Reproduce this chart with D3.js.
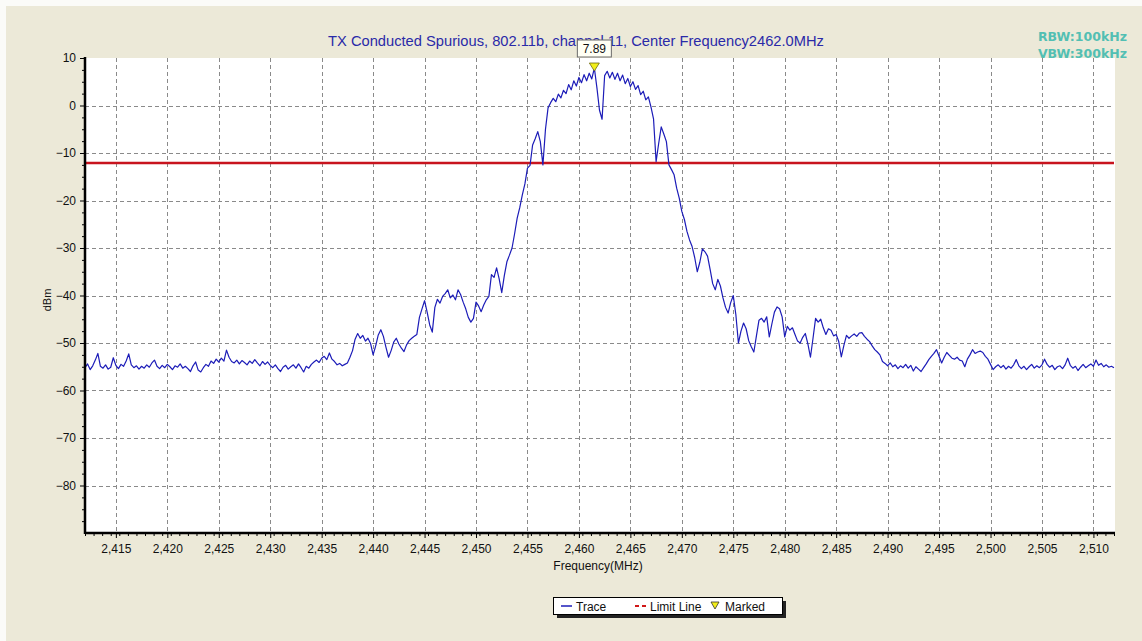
<!DOCTYPE html>
<html lang="en">
<head>
<meta charset="UTF-8">
<title>TX Conducted Spurious</title>
<style>
  body { margin: 0; background: #fff; }
  text { font-family: "Liberation Sans", Arial, sans-serif; }
</style>
</head>
<body>
<script src="https://d3js.org/d3.v7.min.js"></script>
<script>

  // sweep: 2412 MHz start, 0.25 MHz step, 401 points
  var freqStart = 2412, freqStep = 0.25;

  // trace values (dBm)
  var traceDbm = [
    -55.2, -54.4, -55.6, -54.8, -53.6, -52.2, -54.9, -55.3, -54.6, -55.5, -55.1, -53.1, -54.7, -55.4, -54.5, -54.9, -53.8, -52.3, -54.6, -55.2,
    -54.8, -55.5, -54.9, -55.3, -54.6, -55.1, -54.2, -53.6, -54.9, -55.4, -54.7, -55.2, -54.5, -55.0, -55.6, -54.8, -55.1, -54.4, -55.3, -54.9,
    -55.4, -56.0, -54.8, -54.0, -55.7, -56.1, -55.2, -54.5, -54.9, -53.8, -54.3, -53.4, -54.0, -53.2, -53.8, -51.5, -53.0, -53.9, -54.2, -53.6,
    -54.4, -53.7, -54.1, -54.6, -53.8, -54.3, -53.5, -54.2, -54.8, -53.9, -54.5, -54.0, -54.7, -55.2, -54.6, -55.4, -56.0, -55.1, -54.7, -55.5,
    -55.0, -54.6, -55.3, -54.4, -55.2, -56.1, -54.9, -55.3, -54.5, -54.0, -53.6, -54.1, -53.2, -52.8, -53.5, -52.1, -53.4, -53.9, -54.6, -54.3,
    -54.8, -54.5, -54.2, -53.0, -51.6, -49.2, -48.0, -49.0, -48.4, -49.6, -49.0, -50.1, -52.5, -50.6, -48.3, -47.2, -48.6, -50.9, -53.0, -51.6,
    -49.8, -49.0, -50.2, -51.1, -51.8, -50.4, -49.5, -49.0, -48.6, -48.2, -44.6, -42.8, -41.1, -43.5, -46.2, -47.7, -42.5, -40.8, -41.6, -40.2,
    -39.6, -38.8, -40.5, -39.9, -40.9, -38.8, -39.8, -41.4, -42.8, -44.6, -45.6, -44.8, -41.4, -42.2, -43.4, -42.0, -40.9, -40.2, -35.6, -36.2,
    -34.2, -36.5, -39.4, -35.8, -32.9, -31.5, -30.0, -27.0, -23.7, -21.5, -18.8, -16.5, -13.2, -12.6, -8.3, -7.0, -5.5, -7.6, -12.5, -5.0,
    -0.5, 0.6, 1.5, 0.8, 2.4, 1.6, 3.2, 2.5, 4.4, 3.3, 5.2, 4.1, 5.9, 4.8, 6.5, 5.2, 6.8, 5.6, 7.89, 3.7,
    -1.0, -2.9, 6.3, 7.2, 5.8, 7.0, 5.5, 6.8, 5.2, 6.4, 4.6, 5.7, 4.0, 5.0, 3.4, 4.2, 2.3, 3.0, 1.2, 1.8,
    -0.3, -2.8, -11.8, -8.0, -4.5, -6.0, -7.6, -12.5, -13.5, -14.6, -17.4, -19.5, -22.3, -24.0, -26.5, -28.3, -29.7, -32.0, -35.0, -33.0,
    -30.2, -30.8, -31.7, -34.5, -37.5, -38.8, -36.6, -38.0, -40.5, -42.5, -43.7, -41.5, -40.0, -44.0, -50.0, -47.5, -45.8, -47.0, -49.5, -50.8,
    -51.9, -48.5, -45.2, -44.8, -45.6, -44.5, -48.7, -46.0, -43.5, -42.4, -42.8, -44.5, -48.7, -46.5, -47.3, -46.8, -48.2, -49.6, -50.0, -48.8,
    -48.0, -50.2, -53.0, -49.0, -44.8, -45.6, -45.0, -46.8, -48.2, -47.0, -47.3, -48.5, -48.2, -49.7, -52.9, -50.5, -48.4, -49.0, -48.5, -48.1,
    -48.6, -47.9, -47.8, -48.6, -49.2, -49.7, -50.6, -51.4, -51.9, -52.5, -53.9, -54.3, -54.8, -54.2, -55.0, -54.6, -55.4, -54.8, -55.2, -54.5,
    -55.3, -54.7, -55.9, -55.0, -55.5, -56.0, -55.2, -54.4, -53.5, -52.8, -52.2, -51.4, -52.8, -54.2, -53.0, -52.0, -52.6, -53.2, -53.4, -53.0,
    -53.6, -53.8, -55.0, -53.4, -52.5, -51.4, -52.2, -51.9, -51.7, -52.0, -52.8, -53.4, -54.5, -55.6, -55.0, -54.6, -55.2, -54.7, -55.5, -54.9,
    -55.3, -54.6, -53.5, -54.8, -55.4, -54.9, -55.6, -55.0, -54.5, -55.3, -54.8, -55.2, -54.6, -53.4, -54.5, -55.1, -54.7, -55.6, -55.0, -54.8,
    -55.4, -54.6, -53.2, -54.7, -55.3, -54.9, -55.8, -55.1, -54.5, -55.2, -54.8, -54.4, -54.9, -53.6, -54.7, -54.3, -55.0, -54.6, -55.1, -54.9,
    -55.2
  ];

  var xTicks = [2415, 2420, 2425, 2430, 2435, 2440, 2445, 2450, 2455, 2460, 2465, 2470, 2475, 2480, 2485, 2490, 2495, 2500, 2505, 2510];
  var yTicks = [10, 0, -10, -20, -30, -40, -50, -60, -70, -80];
  var limitDbm = -12.11;
  var markerFreq = 2461.5, markerDbm = 7.89;

  var titleText = "TX Conducted Spurious, 802.11b, channel 11, Center Frequency2462.0MHz";
  var bwLines = ["RBW:100kHz", "VBW:300kHz"];
  var legendNames = ["Trace", "Limit Line", "Marked"];

  var W = 1142, H = 641;
  var plot = {left: 85, right: 1114, top: 58, bottom: 533};

  var x = d3.scaleLinear().domain([2412, 2512]).range([plot.left, plot.right]);
  var y = d3.scaleLinear().domain([-90, 10]).range([plot.bottom, plot.top]);

  var svg = d3.select("body").append("svg")
      .attr("width", W)
      .attr("height", H);

  // window background
  svg.append("rect").attr("width", W).attr("height", H).attr("fill", "#fbfbf8");
  svg.append("rect").attr("x", 6).attr("y", 6).attr("width", W - 6).attr("height", H - 6)
      .attr("fill", "#ece9d8");

  // plot area
  svg.append("rect")
      .attr("x", plot.left).attr("y", plot.top)
      .attr("width", plot.right - plot.left + 1).attr("height", plot.bottom - plot.top)
      .attr("fill", "#fff");

  // grid
  var grid = svg.append("g").attr("stroke", "#8a8a8a").attr("stroke-dasharray", "4,3").attr("stroke-width", 1);
  grid.selectAll(".vg").data(xTicks).enter().append("line")
      .attr("x1", function(d) { return Math.round(x(d)) + 0.5; })
      .attr("x2", function(d) { return Math.round(x(d)) + 0.5; })
      .attr("y1", plot.top).attr("y2", plot.bottom);
  grid.selectAll(".hg").data(yTicks.filter(function(d) { return d < 10; })).enter().append("line")
      .attr("x1", plot.left).attr("x2", plot.right)
      .attr("y1", function(d) { return Math.round(y(d)) + 0.5; })
      .attr("y2", function(d) { return Math.round(y(d)) + 0.5; });

  // limit line
  svg.append("line")
      .attr("x1", plot.left).attr("x2", plot.right)
      .attr("y1", y(limitDbm)).attr("y2", y(limitDbm))
      .attr("stroke", "#c8141e").attr("stroke-width", 2.5);

  // trace
  var line = d3.line()
      .x(function(d, i) { return x(freqStart + i * freqStep); })
      .y(function(d) { return y(d); });
  svg.append("path")
      .datum(traceDbm)
      .attr("fill", "none")
      .attr("stroke", "#1c1cb8")
      .attr("stroke-width", 1.2)
      .attr("stroke-linejoin", "round")
      .attr("d", line);

  // axes
  var minorX = d3.range(2412, 2512.01, 5 / 6).filter(function(d) { return Math.abs((d - 2415) / 5 - Math.round((d - 2415) / 5)) > 0.05; });
  svg.append("g")
      .attr("transform", "translate(0," + plot.bottom + ")")
      .call(d3.axisBottom(x).tickValues(minorX).tickSize(3).tickFormat(""))
      .call(function(g) { g.select(".domain").remove(); });
  var xAxis = svg.append("g")
      .attr("transform", "translate(0," + plot.bottom + ")")
      .call(d3.axisBottom(x).tickValues(xTicks).tickSize(5).tickPadding(6).tickFormat(d3.format(",")));
  xAxis.select(".domain").remove();
  xAxis.selectAll("text").attr("font-size", 12).attr("fill", "#111").style("font-family", "Liberation Sans, Arial, sans-serif");

  var minorY = d3.range(-90, 10.01, 2.5).filter(function(d) { return d % 10 !== 0; });
  svg.append("g")
      .attr("transform", "translate(" + plot.left + ",0)")
      .call(d3.axisLeft(y).tickValues(minorY).tickSize(3).tickFormat(""))
      .call(function(g) { g.select(".domain").remove(); });
  var yAxis = svg.append("g")
      .attr("transform", "translate(" + plot.left + ",0)")
      .call(d3.axisLeft(y).tickValues(yTicks).tickSize(5).tickPadding(4));
  yAxis.select(".domain").remove();
  yAxis.selectAll("text").attr("font-size", 12).attr("fill", "#111").style("font-family", "Liberation Sans, Arial, sans-serif");

  // heavy axis lines
  svg.append("line").attr("x1", plot.left).attr("x2", plot.left).attr("y1", plot.top - 1).attr("y2", plot.bottom + 1)
      .attr("stroke", "#000").attr("stroke-width", 2.5);
  svg.append("line").attr("x1", plot.left).attr("x2", plot.right + 1).attr("y1", plot.bottom).attr("y2", plot.bottom)
      .attr("stroke", "#000").attr("stroke-width", 2.5);

  // axis titles
  svg.append("text")
      .attr("x", 598).attr("y", 570)
      .attr("text-anchor", "middle").attr("font-size", 12).attr("fill", "#111")
      .text("Frequency(MHz)");
  svg.append("text")
      .attr("transform", "translate(51,300) rotate(-90)")
      .attr("text-anchor", "middle").attr("font-size", 11).attr("fill", "#111")
      .text("dBm");

  // title (the marker readout box sits over part of it, as in the original)
  svg.append("text")
      .attr("x", 576).attr("y", 46)
      .attr("text-anchor", "middle").attr("font-size", 14.7).attr("fill", "#2a2aa8")
      .text(titleText);

  // RBW / VBW
  svg.selectAll(".bw").data(bwLines).enter().append("text")
      .attr("x", 1127).attr("y", function(d, i) { return 41 + i * 17; })
      .attr("text-anchor", "end").attr("font-size", 12.5).attr("font-weight", "bold")
      .attr("fill", "#52bfb3")
      .style("font-family", "DejaVu Sans, Verdana, sans-serif")
      .text(function(d) { return d; });

  // marker
  var mx = x(markerFreq), my = y(markerDbm);
  svg.append("rect")
      .attr("x", mx - 17).attr("y", 40).attr("width", 34).attr("height", 17)
      .attr("fill", "#fffff4").attr("stroke", "#6a6a6a").attr("stroke-width", 1);
  svg.append("text")
      .attr("x", mx).attr("y", 53)
      .attr("text-anchor", "middle").attr("font-size", 12).attr("fill", "#111")
      .text(markerDbm.toFixed(2));
  svg.append("path")
      .attr("d", "M" + (mx - 5) + "," + (my - 5) + "L" + (mx + 5) + "," + (my - 5) + "L" + mx + "," + (my + 3) + "Z")
      .attr("fill", "#f2ee1a").attr("stroke", "#6d6a10").attr("stroke-width", 0.8);

  // legend
  var lg = svg.append("g").attr("transform", "translate(553,597)");
  lg.append("rect").attr("x", 4).attr("y", 4).attr("width", 229).attr("height", 17).attr("fill", "#222");
  lg.append("rect").attr("x", 0.5).attr("y", 0.5).attr("width", 229).attr("height", 17)
      .attr("fill", "#fff").attr("stroke", "#000").attr("stroke-width", 1);
  lg.append("line").attr("x1", 8).attr("x2", 19).attr("y1", 9).attr("y2", 9)
      .attr("stroke", "#1c1cb8").attr("stroke-width", 1.5);
  lg.append("line").attr("x1", 82).attr("x2", 95).attr("y1", 9).attr("y2", 9)
      .attr("stroke", "#d01818").attr("stroke-width", 2).attr("stroke-dasharray", "4,3");
  lg.append("path").attr("d", "M158,5L166,5L162,12Z")
      .attr("fill", "#f2ee1a").attr("stroke", "#333").attr("stroke-width", 0.8);
  lg.selectAll(".lt").data(legendNames).enter().append("text")
      .attr("x", function(d, i) { return [23, 97, 172][i]; })
      .attr("y", 13.5)
      .attr("font-size", 12).attr("fill", "#111")
      .text(function(d) { return d; });

</script>
</body>
</html>
